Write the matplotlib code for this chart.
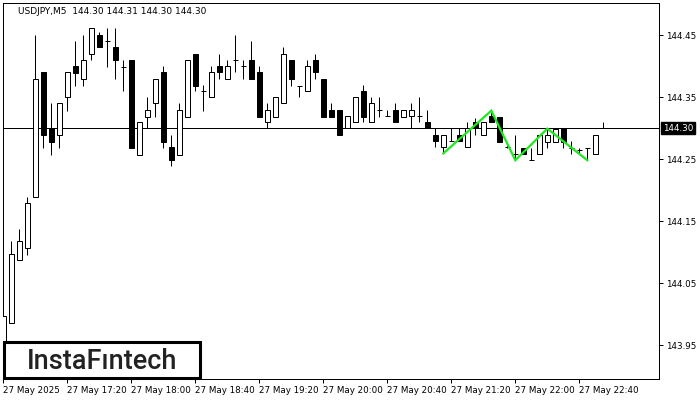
import matplotlib
matplotlib.use("Agg")
import matplotlib.pyplot as plt
from matplotlib.patches import Rectangle
import matplotlib.transforms as mtransforms

# --- data: USDJPY M5 candles (27 May 2025, from 16:40) ---
opens = [143.890, 143.986, 144.087, 144.107, 144.188, 144.390, 144.300, 144.288, 144.350, 144.400,
         144.379, 144.419, 144.450, 144.440, 144.430, 144.399, 144.409, 144.257, 144.318, 144.340,
         144.390, 144.269, 144.257, 144.318, 144.419, 144.360, 144.350, 144.400, 144.379, 144.410,
         144.400, 144.410, 144.390, 144.309, 144.318, 144.340, 144.410, 144.368, 144.359, 144.410,
         144.379, 144.329, 144.329, 144.300, 144.309, 144.360, 144.309, 144.329, 144.319, 144.329,
         144.318, 144.319, 144.319, 144.309, 144.289, 144.269, 144.279, 144.289, 144.269, 144.309,
         144.289, 144.319, 144.318, 144.270, 144.258, 144.268, 144.248, 144.258, 144.278, 144.278,
         144.300, 144.268, 144.265, 144.268, 144.258, 144.300]
highs = [144.000, 144.118, 144.137, 144.189, 144.450, 144.390, 144.340, 144.340, 144.390, 144.441,
         144.450, 144.461, 144.455, 144.461, 144.461, 144.409, 144.409, 144.309, 144.350, 144.379,
         144.400, 144.289, 144.340, 144.409, 144.419, 144.369, 144.400, 144.419, 144.410, 144.450,
         144.410, 144.440, 144.400, 144.340, 144.350, 144.430, 144.410, 144.368, 144.410, 144.419,
         144.379, 144.340, 144.329, 144.319, 144.350, 144.369, 144.350, 144.350, 144.329, 144.340,
         144.329, 144.340, 144.350, 144.329, 144.300, 144.289, 144.300, 144.300, 144.309, 144.316,
         144.309, 144.329, 144.318, 144.278, 144.288, 144.268, 144.268, 144.288, 144.299, 144.299,
         144.300, 144.279, 144.268, 144.268, 144.288, 144.310]
lows = [143.870, 143.986, 144.087, 144.095, 144.188, 144.268, 144.257, 144.268, 144.328, 144.368,
        144.368, 144.409, 144.430, 144.399, 144.379, 144.359, 144.268, 144.257, 144.300, 144.318,
        144.268, 144.238, 144.257, 144.318, 144.359, 144.328, 144.350, 144.379, 144.379, 144.390,
        144.379, 144.379, 144.318, 144.300, 144.318, 144.340, 144.368, 144.350, 144.359, 144.379,
        144.318, 144.318, 144.288, 144.300, 144.309, 144.309, 144.309, 144.318, 144.319, 144.309,
        144.318, 144.300, 144.309, 144.300, 144.269, 144.259, 144.279, 144.279, 144.269, 144.288,
        144.289, 144.309, 144.278, 144.268, 144.248, 144.258, 144.248, 144.258, 144.268, 144.278,
        144.268, 144.258, 144.258, 144.248, 144.258, 144.300]
closes = [143.997, 144.096, 144.118, 144.179, 144.379, 144.288, 144.278, 144.340, 144.390, 144.389,
          144.410, 144.461, 144.430, 144.440, 144.409, 144.399, 144.268, 144.309, 144.329, 144.379,
          144.278, 144.248, 144.329, 144.409, 144.368, 144.360, 144.390, 144.390, 144.400, 144.410,
          144.400, 144.379, 144.318, 144.329, 144.350, 144.419, 144.379, 144.368, 144.400, 144.390,
          144.318, 144.318, 144.288, 144.319, 144.350, 144.318, 144.340, 144.329, 144.319, 144.309,
          144.329, 144.329, 144.319, 144.300, 144.279, 144.289, 144.279, 144.279, 144.300, 144.300,
          144.309, 144.309, 144.278, 144.270, 144.258, 144.258, 144.248, 144.288, 144.288, 144.299,
          144.278, 144.268, 144.265, 144.268, 144.288, 144.300]

# triple bottom pattern outline (bar index, price)
pattern_bars = [55, 61, 64, 68, 73]
pattern_prices = [144.259, 144.328, 144.248, 144.299, 144.248]

current_price = 144.30
price_ticks = [143.95, 144.05, 144.15, 144.25, 144.35, 144.45]
time_tick_bars = [0, 8, 16, 24, 32, 40, 48, 56, 64, 72]
time_labels = ["27 May 2025", "27 May 17:20", "27 May 18:00", "27 May 18:40", "27 May 19:20",
               "27 May 20:00", "27 May 20:40", "27 May 21:20", "27 May 22:00", "27 May 22:40"]

# --- figure ---
fig = plt.figure(figsize=(7, 4), dpi=100)
ax = fig.add_axes([2.7 / 700, 1 - 379.3 / 400, (659.3 - 2.7) / 700, (379.3 - 2.7) / 400])
ax.set_xlim(-0.075, 82)
ax.set_ylim(143.8947, 144.5021)

px = 0.72  # one pixel in points
ax.axhline(current_price, color="black", lw=px, zorder=1)

x = list(range(len(opens)))
ax.vlines(x, lows, highs, color="black", lw=px, zorder=2)
bottoms = [min(o, c) for o, c in zip(opens, closes)]
heights = [abs(c - o) for o, c in zip(opens, closes)]
faces = ["white" if c >= o else "black" for o, c in zip(opens, closes)]
ax.bar(x, heights, bottom=bottoms, width=0.6, color=faces, edgecolor="black",
       linewidth=px, zorder=3)

ax.plot(pattern_bars, pattern_prices, color="#1ee81e", lw=1.6, zorder=4,
        solid_joinstyle="miter")

for s in ax.spines.values():
    s.set_linewidth(px)
    s.set_color("black")

ax.yaxis.tick_right()
ax.set_yticks(price_ticks)
ax.set_yticklabels([f"{p:.2f}" for p in price_ticks])
ax.set_xticks(time_tick_bars)
ax.set_xticklabels(time_labels, ha="left")
ax.tick_params(axis="both", length=3, width=px, labelsize=6.3, pad=2, colors="black")

# current price label
trans = mtransforms.blended_transform_factory(ax.transAxes, ax.transData)
ax.text(1.006, current_price, "144.30", transform=trans, color="white", fontsize=6.3,
        va="center", ha="left", clip_on=False,
        bbox=dict(boxstyle="square,pad=0.2", fc="black", ec="black"))

# title
fig.text(18 / 700, 1 - 11 / 400, "USDJPY,M5  144.30 144.31 144.30 144.30",
         fontsize=6.5, va="center", ha="left", color="black")

# logo box
fig.patches.append(Rectangle((4.2 / 700, 1 - 377.8 / 400), (199.5 - 4.2) / 700, 36 / 400,
                             transform=fig.transFigure, fc="white", ec="black", lw=2.2,
                             zorder=10))
fig.text(102 / 700, 1 - 369 / 400, "InstaF\u0131ntech", fontsize=19.5, ha="center",
         va="baseline", color="#222222", family=["Roboto", "DejaVu Sans"],
         fontweight="medium", zorder=11)

fig.savefig("out.png", dpi=100)
